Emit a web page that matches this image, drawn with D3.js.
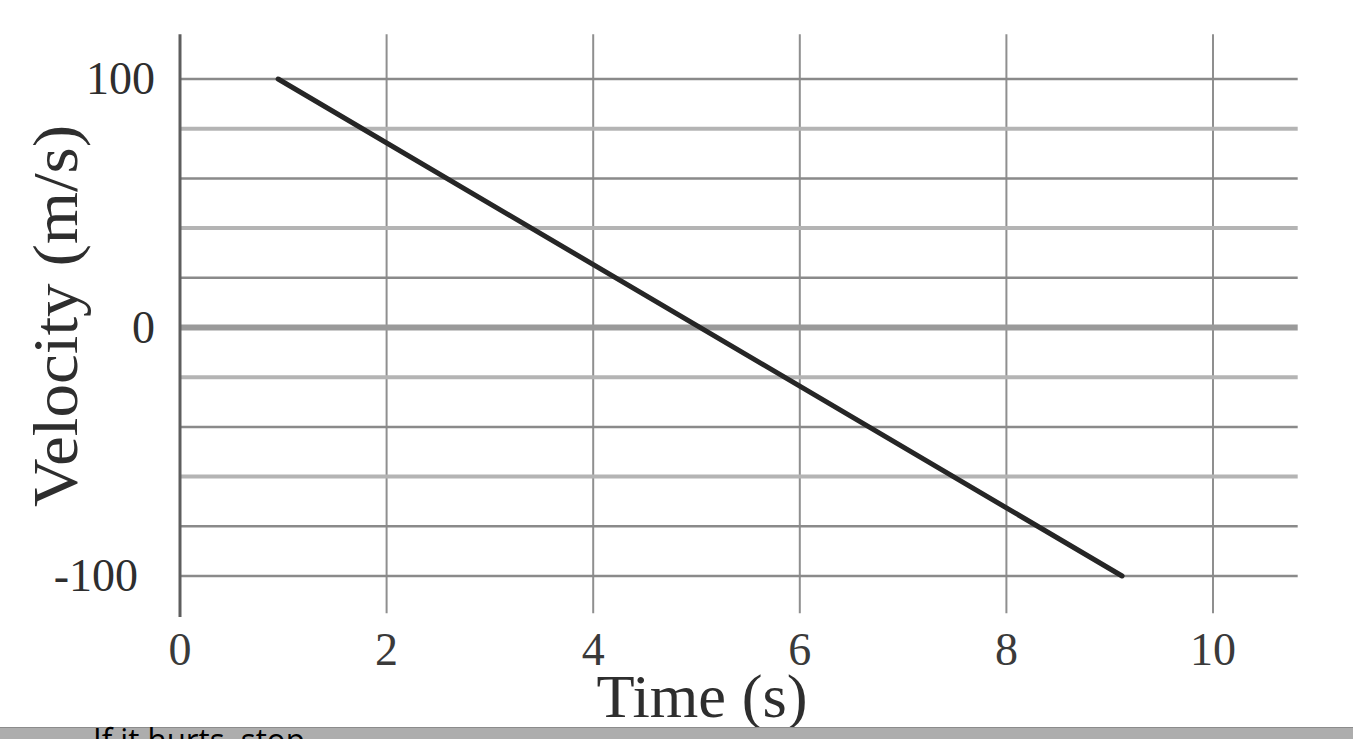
<!DOCTYPE html>
<html>
<head>
<meta charset="utf-8">
<script src="https://cdn.jsdelivr.net/npm/d3@7"></script>
<style>
  html, body { margin: 0; padding: 0; background: #fff; }
  svg { display: block; }
</style>
</head>
<body>
<div id="chart"></div>
<script>
// ---- data ----
const xTicks = [0, 2, 4, 6, 8, 10];
const xTickLabels = ["0", "2", "4", "6", "8", "10"];
const yGridValues = [100, 80, 60, 40, 20, 0, -20, -40, -60, -80, -100];
const yLightGrid = [80, 40, -20, -60];
const yTickValues = [100, 0, -100];
const yTickLabels = ["100", "0", "-100"];
const timeValues = [0.95, 9.12];
const velocityValues = [100, -100];
const xTitle = "Time (s)";
const yTitle = "Velocity (m/s)";
const footerText = "If it hurts, stop.";

// ---- layout ----
const W = 1353, H = 739;
const svg = d3.select("#chart").append("svg").attr("width", W).attr("height", H);

const x = d3.scaleLinear().domain([0, 10]).range([180, 1213]);
const y = d3.scaleLinear().domain([-100, 100]).range([576, 79]);
const xMaxGrid = 10.82;
const yTopGrid = 118, yBotGrid = -115, yBotAxis = -116.5;

const g = svg.append("g");

// vertical gridlines
g.selectAll("line.vgrid").data(xTicks.filter(d => d !== 0)).enter().append("line")
  .attr("class", "vgrid")
  .attr("x1", d => x(d)).attr("x2", d => x(d))
  .attr("y1", y(yTopGrid)).attr("y2", y(yBotGrid))
  .attr("stroke", "#8f8f8f").attr("stroke-width", 2);

// horizontal gridlines
g.selectAll("line.hgrid").data(yGridValues).enter().append("line")
  .attr("class", "hgrid")
  .attr("x1", x(0)).attr("x2", x(xMaxGrid))
  .attr("y1", d => y(d)).attr("y2", d => y(d))
  .attr("stroke", d => d === 0 ? "#9a9a9a" : (yLightGrid.includes(d) ? "#b4b4b4" : "#8a8a8a"))
  .attr("stroke-width", d => d === 0 ? 6 : (yLightGrid.includes(d) ? 4 : 2.5));

// y axis line
g.append("line")
  .attr("x1", x(0)).attr("x2", x(0))
  .attr("y1", y(yTopGrid)).attr("y2", y(yBotAxis))
  .attr("stroke", "#5e5e5e").attr("stroke-width", 3);

// data line
const line = d3.line().x(d => x(d[0])).y(d => y(d[1]));
g.append("path")
  .datum(timeValues.map((t, i) => [t, velocityValues[i]]))
  .attr("d", line)
  .attr("fill", "none")
  .attr("stroke", "#262626")
  .attr("stroke-width", 5)
  .attr("stroke-linecap", "round");

const serif = "'Liberation Serif', 'DejaVu Serif', serif";

// x tick labels
g.selectAll("text.xt").data(xTicks).enter().append("text")
  .attr("class", "xt")
  .attr("x", d => x(d)).attr("y", 665)
  .attr("text-anchor", "middle")
  .attr("font-family", serif).attr("font-size", 46)
  .attr("fill", "#3a3a3a")
  .text((d, i) => xTickLabels[i]);

// y tick labels
g.selectAll("text.yt").data(yTickValues).enter().append("text")
  .attr("class", "yt")
  .attr("x", d => d < 0 ? 138 : 155).attr("y", d => y(d) + 15)
  .attr("text-anchor", "end")
  .attr("font-family", serif).attr("font-size", 46)
  .attr("fill", "#2e2e2e")
  .text((d, i) => yTickLabels[i]);

// x title
g.append("text")
  .attr("x", 702).attr("y", 717)
  .attr("text-anchor", "middle")
  .attr("font-family", serif).attr("font-size", 62)
  .attr("textLength", 211).attr("lengthAdjust", "spacingAndGlyphs")
  .attr("fill", "#2e2e2e")
  .text(xTitle);

// y title
g.append("text")
  .attr("transform", "translate(77,316) rotate(-90)")
  .attr("text-anchor", "middle")
  .attr("font-family", serif).attr("font-size", 63)
  .attr("textLength", 382).attr("lengthAdjust", "spacingAndGlyphs")
  .attr("fill", "#2e2e2e")
  .text(yTitle);

// footer bar
svg.append("rect").attr("x", 0).attr("y", 727).attr("width", W).attr("height", H - 727)
  .attr("fill", "#adadad");
svg.append("line").attr("x1", 0).attr("x2", W).attr("y1", 727.5).attr("y2", 727.5)
  .attr("stroke", "#8c8c8c").attr("stroke-width", 1);
svg.append("text")
  .attr("x", 93).attr("y", 752)
  .attr("font-family", "'Open Sans', 'Liberation Sans', sans-serif")
  .attr("font-size", 32)
  .attr("textLength", 220).attr("lengthAdjust", "spacingAndGlyphs")
  .attr("fill", "#000")
  .text(footerText);
</script>
</body>
</html>
